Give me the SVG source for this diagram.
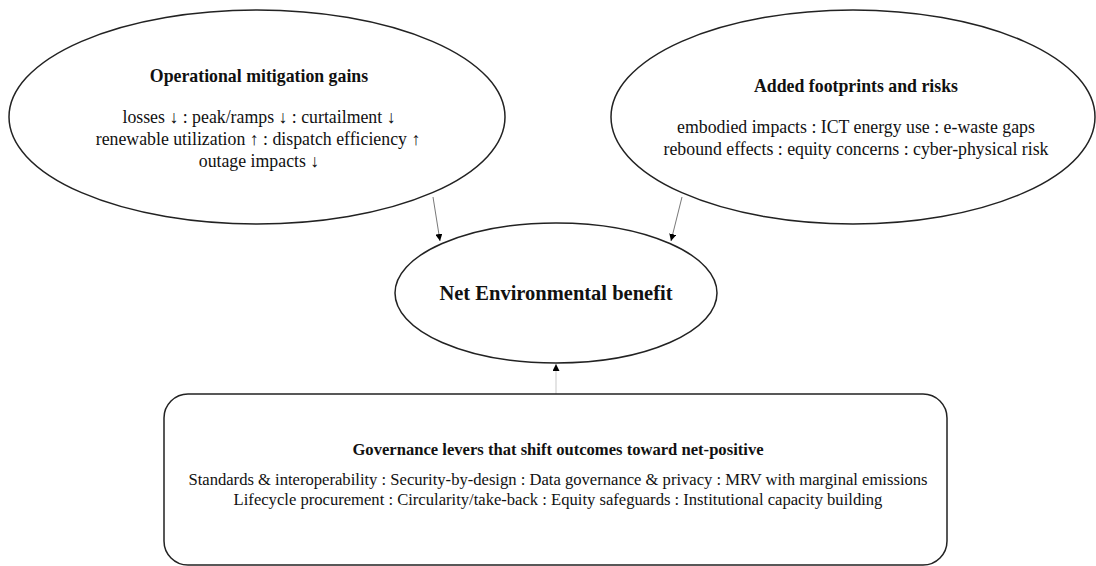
<svg xmlns="http://www.w3.org/2000/svg" width="1096" height="566" viewBox="0 0 1096 566">
<defs>
<marker id="ah" viewBox="0 0 10 10" refX="10" refY="5" markerWidth="7" markerHeight="7" markerUnits="userSpaceOnUse" orient="auto">
<path d="M0,0 L10,5 L0,10 z" fill="#000"/>
</marker>
<style>
.shape{fill:#fff;stroke:#222;stroke-width:1.5}
.t{font-family:"Liberation Serif","Times New Roman",serif;fill:#111;text-anchor:middle}
.b{font-weight:bold}
.edge{fill:none;stroke:#555;stroke-width:0.8}
.e{font-size:17.8px}
.g{font-size:16.6px}
</style>
</defs>
<rect width="1096" height="566" fill="#fff"/>
<g id="connectors">
<line class="edge" x1="433" y1="197" x2="440" y2="241" marker-end="url(#ah)"/>
<line class="edge" x1="682" y1="197" x2="671" y2="241" marker-end="url(#ah)"/>
<line class="edge" x1="556" y1="395" x2="556" y2="364" style="stroke:#bbb" marker-end="url(#ah)"/>
</g>
<g id="node-operational">
<ellipse class="shape" cx="257" cy="117" rx="248" ry="107"/>
<text class="t b e" x="259" y="82">Operational mitigation gains</text>
<text class="t e" x="259" y="123">losses ↓ : peak/ramps ↓ : curtailment ↓</text>
<text class="t e" x="258" y="145">renewable utilization ↑ : dispatch efficiency ↑</text>
<text class="t e" x="259" y="167">outage impacts ↓</text>
</g>
<g id="node-footprints">
<ellipse class="shape" cx="853" cy="117" rx="242" ry="107"/>
<text class="t b e" x="856" y="92">Added footprints and risks</text>
<text class="t e" x="856" y="133">embodied impacts : ICT energy use : e-waste gaps</text>
<text class="t e" x="856" y="155">rebound effects : equity concerns : cyber-physical risk</text>
</g>
<g id="node-net">
<ellipse class="shape" cx="556" cy="293" rx="161" ry="70"/>
<text class="t b" x="556" y="300" font-size="20.5">Net Environmental benefit</text>
</g>
<g id="node-governance">
<rect class="shape" x="164" y="394" width="783" height="171" rx="24" ry="24"/>
<text class="t b g" x="558" y="455">Governance levers that shift outcomes toward net-positive</text>
<text class="t g" x="558" y="485">Standards &amp; interoperability : Security-by-design : Data governance &amp; privacy : MRV with marginal emissions</text>
<text class="t g" x="558" y="505">Lifecycle procurement : Circularity/take-back : Equity safeguards : Institutional capacity building</text>
</g>
</svg>
